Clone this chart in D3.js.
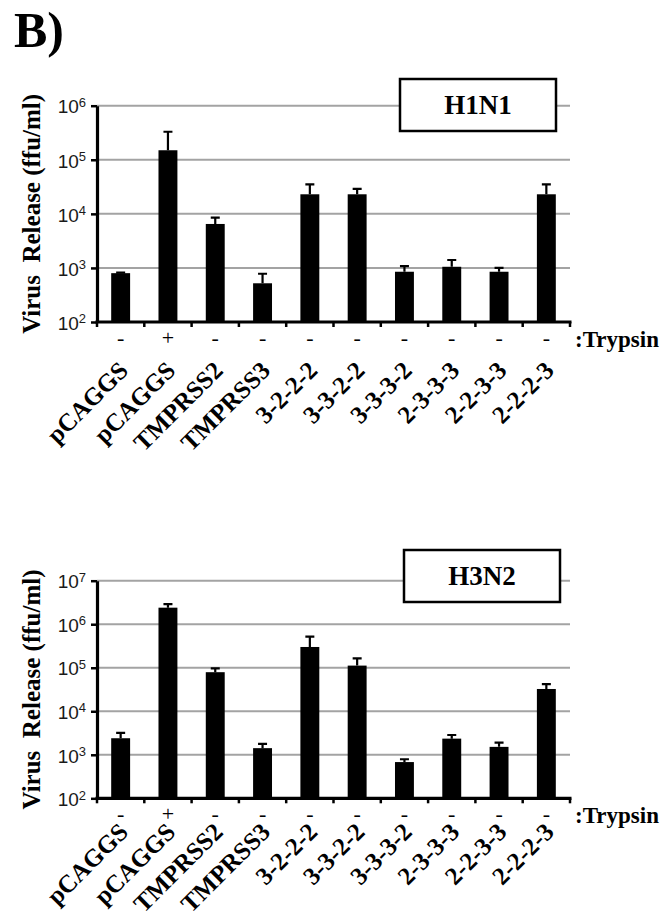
<!DOCTYPE html>
<html>
<head>
<meta charset="utf-8">
<script src="https://cdn.jsdelivr.net/npm/d3@7"></script>
<style>
  body { margin: 0; background: #fff; }
  svg { display: block; }
</style>
</head>
<body>
<div id="chart"></div>
<script>
// categories (plasmids) and trypsin treatment
var categories = ["pCAGGS", "pCAGGS", "TMPRSS2", "TMPRSS3", "3-2-2-2", "3-3-2-2", "3-3-3-2", "2-3-3-3", "2-2-3-3", "2-2-2-3"];
var trypsin = ["-", "+", "-", "-", "-", "-", "-", "-", "-", "-"];

// H1N1 virus release (ffu/ml): mean and top of error bar
var h1n1Mean  = [800, 150000, 6500, 520, 23000, 23000, 850, 1050, 850, 23000];
var h1n1Upper = [820, 330000, 8500, 780, 35000, 29000, 1080, 1400, 1000, 35000];
var h1n1Ticks = [1e2, 1e3, 1e4, 1e5, 1e6];

// H3N2 virus release (ffu/ml)
var h3n2Mean  = [2400, 2400000, 79000, 1420, 300000, 112000, 680, 2350, 1520, 32500];
var h3n2Upper = [3200, 2900000, 97000, 1780, 520000, 165000, 790, 2850, 1900, 42000];
var h3n2Ticks = [1e2, 1e3, 1e4, 1e5, 1e6, 1e7];

const SERIF = "'Liberation Serif', 'Times New Roman', serif";
const SANS = "'Liberation Sans', Arial, sans-serif";
const width = 670, height = 917;
const svg = d3.select("#chart").append("svg").attr("width", width).attr("height", height);

svg.append("text").attr("x", 14).attr("y", 47)
  .style("font-family", SERIF).style("font-size", "50px").style("font-weight", "bold").text("B)");

function panel(opt){
  const left = 97, right = 570;
  const x = d3.scaleBand().domain(d3.range(categories.length)).range([left, right]).padding(0);
  const y = d3.scaleLog().domain([opt.ticks[0], opt.ticks[opt.ticks.length - 1]]).range([opt.bottom, opt.top]);
  const g = svg.append("g");

  // grid lines
  g.selectAll(".grid").data(opt.ticks.slice(1)).enter().append("line")
    .attr("x1", left).attr("x2", right).attr("y1", d => y(d)).attr("y2", d => y(d))
    .attr("stroke", "#a3a3a3").attr("stroke-width", 2);

  // label box
  g.append("rect").attr("x", opt.box[0]).attr("y", opt.box[1]).attr("width", 156).attr("height", opt.box[2])
    .attr("fill", "#fff").attr("stroke", "#000").attr("stroke-width", 2.5);
  g.append("text").attr("x", opt.box[0] + 78).attr("y", opt.box[1] + opt.box[2] / 2 + 9)
    .attr("text-anchor", "middle")
    .style("font-family", SERIF).style("font-size", "27px").style("font-weight", "bold").text(opt.name);

  // bars
  const bw = x.bandwidth() * 0.4;
  g.selectAll(".bar").data(opt.mean).enter().append("rect")
    .attr("x", (d, i) => x(i) + x.bandwidth() / 2 - bw / 2).attr("width", bw)
    .attr("y", d => y(d)).attr("height", d => opt.bottom - y(d)).attr("fill", "#000");

  // error bars
  g.selectAll(".err").data(opt.upper).enter().append("path")
    .attr("d", (d, i) => {
      const cx = x(i) + x.bandwidth() / 2;
      return "M" + cx + "," + y(opt.mean[i]) + "V" + y(d) + "M" + (cx - 4.5) + "," + y(d) + "H" + (cx + 4.5);
    })
    .attr("stroke", "#000").attr("stroke-width", 2.2).attr("fill", "none");

  // y axis
  const yAxis = d3.axisLeft(y).tickValues(opt.ticks).tickSize(6).tickSizeOuter(0).tickFormat("");
  const ya = g.append("g").attr("transform", `translate(${left},0)`).call(yAxis);
  ya.select(".domain").attr("stroke-width", 3.2);
  ya.selectAll(".tick line").attr("stroke-width", 2.5);
  ya.selectAll(".tick text").remove();
  ya.selectAll(".tick").append("text")
    .attr("x", -11).attr("dy", "0.38em").attr("text-anchor", "end").attr("fill", "#1a1a1a")
    .style("font-family", SANS).style("font-size", "19px")
    .each(function(d){
      const t = d3.select(this);
      t.append("tspan").text("10");
      t.append("tspan").attr("dy", "-0.5em").style("font-size", "13px").text(Math.round(Math.log10(d)));
    });

  // x axis with ticks at band edges
  const xa = g.append("g");
  xa.append("line").attr("x1", left - 1.5).attr("x2", right + 1.5).attr("y1", opt.bottom).attr("y2", opt.bottom)
    .attr("stroke", "#000").attr("stroke-width", 3.2);
  xa.selectAll(".xt").data(d3.range(categories.length + 1)).enter().append("line")
    .attr("x1", i => left + i * x.step()).attr("x2", i => left + i * x.step())
    .attr("y1", opt.bottom).attr("y2", opt.bottom + 5)
    .attr("stroke", "#000").attr("stroke-width", 2.5);

  // trypsin signs
  g.selectAll(".sign").data(trypsin).enter().append("text")
    .attr("x", (d, i) => x(i) + x.bandwidth() / 2).attr("y", opt.bottom + 23)
    .attr("text-anchor", "middle").style("font-family", SERIF).style("font-size", "22px").text(d => d);
  g.append("text").attr("x", 575).attr("y", opt.bottom + 25)
    .style("font-family", SERIF).style("font-size", "23px").style("font-weight", "bold").text(":Trypsin");

  // category labels
  g.selectAll(".cat").data(categories).enter().append("text")
    .attr("transform", (d, i) => `translate(${x(i) + x.bandwidth() / 2 + 9},${opt.bottom + opt.labelDy}) rotate(-45)`)
    .attr("text-anchor", "end")
    .style("font-family", SERIF).style("font-size", "25px").style("font-weight", "bold").text(d => d);

  // y label
  g.append("text")
    .attr("transform", `translate(40,${(opt.top + opt.bottom) / 2}) rotate(-90)`)
    .attr("text-anchor", "middle")
    .style("font-family", SERIF).style("font-size", "25px").style("font-weight", "bold")
    .style("white-space", "pre").text("Virus  Release (ffu/ml)");
}

panel({name: "H1N1", mean: h1n1Mean, upper: h1n1Upper, ticks: h1n1Ticks, top: 105.7, bottom: 322, box: [400, 79, 52], labelDy: 50});
panel({name: "H3N2", mean: h3n2Mean, upper: h3n2Upper, ticks: h3n2Ticks, top: 580.7, bottom: 798.3, box: [404, 550, 52], labelDy: 35});
</script>
</body>
</html>
